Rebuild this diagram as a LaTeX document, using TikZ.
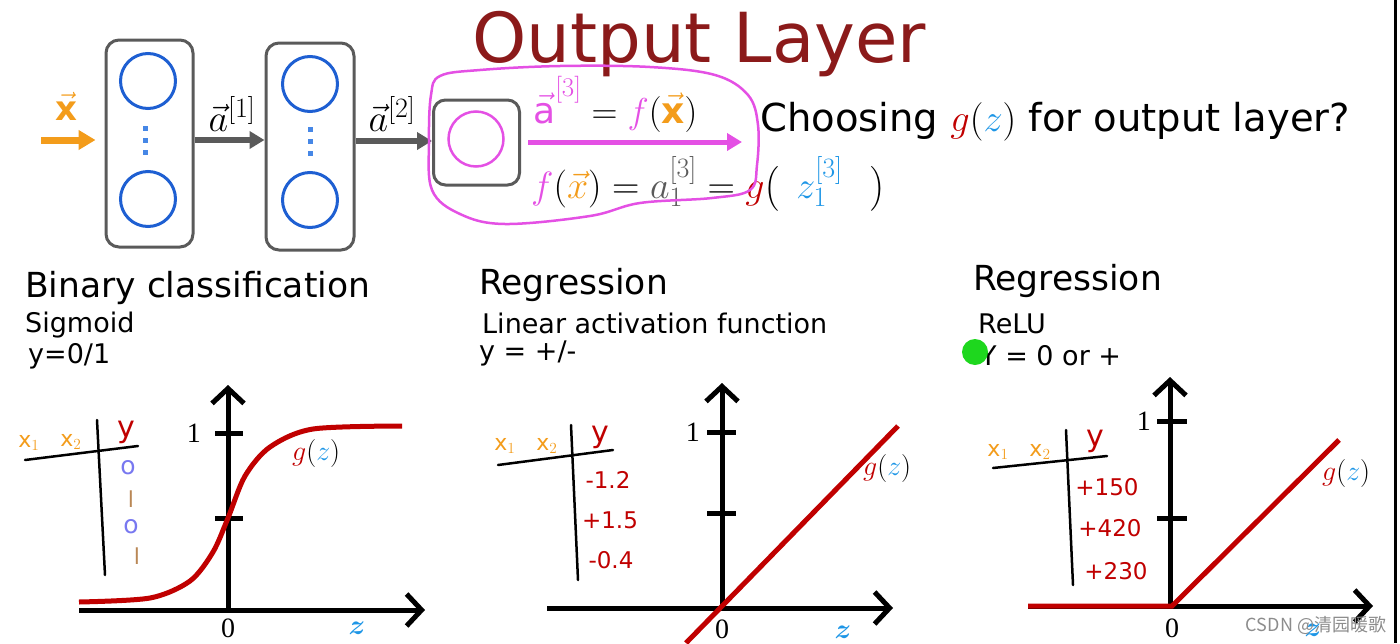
\RequirePackage{fix-cm}
\documentclass[tikz,border=0pt]{standalone}
\usepackage{amsmath}
\usepackage{fontspec}
\setmainfont{DejaVu Sans}
\newfontfamily\axisfont{Liberation Serif}
\newfontfamily\cjkfont{Noto Sans CJK SC}
\usetikzlibrary{arrows.meta, positioning}

\DeclareMathSizes{36}{36}{27}{20}
\DeclareMathSizes{38}{38}{28}{21}

\definecolor{titlered}{RGB}{139,26,26}
\definecolor{boxgray}{RGB}{90,90,90}
\definecolor{unitblue}{RGB}{30,95,210}
\definecolor{dotblue}{RGB}{70,135,230}
\definecolor{inorange}{RGB}{243,156,27}
\definecolor{outmag}{RGB}{228,80,228}
\definecolor{curvered}{RGB}{192,0,0}
\definecolor{zblue}{RGB}{30,150,230}
\definecolor{handpurple}{RGB}{120,120,240}
\definecolor{handbrown}{RGB}{185,135,85}
\definecolor{dotgreen}{RGB}{30,215,30}
\definecolor{markgray}{RGB}{140,140,140}

\newcommand{\sz}[1]{\fontsize{#1}{#1}\selectfont}
\newcommand{\gz}{\textcolor{curvered}{g}(\textcolor{zblue}{z})}
\newcommand{\zz}{\textcolor{zblue}{\boldsymbol{z}}}

\begin{document}
\begin{tikzpicture}[x=1pt, y=-1pt,
  layer/.style={draw=boxgray, line width=3pt, rounded corners=13pt, inner sep=0pt},
  unit/.style={circle, draw=unitblue, line width=3pt, minimum size=55pt, inner sep=0pt},
  netarrow/.style={draw=boxgray, line width=6pt, -{Triangle[length=15pt,width=17pt]}},
  inarrow/.style={draw=inorange, line width=7pt, -{Triangle[length=17pt,width=19pt]}},
  outarrow/.style={draw=outmag, line width=5pt, -{Triangle[length=15pt,width=17pt]}},
  axis/.style={line width=5pt, -{Straight Barb[length=15pt,width=32pt]}},
  axistick/.style={line width=5pt},
  curve/.style={draw=curvered, line width=5pt},
  hand/.style={line width=2.5pt, line cap=round},
  txt/.style={inner sep=0pt, anchor=base west},
  heading/.style={txt, font=\sz{34.5}},
  subhead/.style={txt, font=\sz{27}},
  handtxt/.style={inner sep=0pt, font=\sz{22}},
  handnum/.style={inner sep=0pt, font=\sz{23}, text=curvered},
  axislabel/.style={inner sep=0pt, font=\axisfont\sz{28}}
]
\useasboundingbox (0,0) rectangle (1400,643);

% title and question
\node[txt, text=titlered, font=\sz{69}] (title) at (472,62) {Output Layer};
\node[txt, font=\sz{38.5}] (choose) at (760,131) {Choosing $\gz$ for output layer?};

% network
\node[layer, minimum width=87pt, minimum height=207pt] (layer1) at (149.5,143.5) {};
\node[layer, minimum width=88pt, minimum height=207pt] (layer2) at (310,146.5) {};
\node[layer, minimum width=86pt, minimum height=85pt, rounded corners=12pt] (layer3) at (476.5,142.5) {};
\node[unit] (u11) at (148,81) {};
\node[unit] (u12) at (148,199) {};
\node[unit] (u21) at (310,84) {};
\node[unit] (u22) at (310,200) {};
\node[unit, draw=outmag, line width=2.5pt] (u31) at (476,139) {};
\coordinate (dots1) at (145,140);
\coordinate (dots2) at (310,141);
\foreach \yy in {128,140,152} \fill[dotblue] (142.5,\yy-2.5) rectangle ++(5,5);
\foreach \yy in {129,141,153} \fill[dotblue] (307.5,\yy-2.5) rectangle ++(5,5);

\coordinate (xin) at (41,140);
\coordinate (aout) at (742,142);
\draw[inarrow, shorten >=9pt] (xin) -- (layer1.west |- xin);
\draw[netarrow] (layer1.east |- dots1) -- (layer2.west |- dots1);
\draw[netarrow] (layer2.east |- dots2) -- (layer3.west |- dots2);
\draw[outarrow, shorten <=7pt] (layer3.east |- aout) -- (aout);

\node[inner sep=0pt, text=inorange, font=\sz{34}] (xlabel) at (66,106) {$\vec{\mathbf{x}}$};
\node[inner sep=0pt, font=\sz{38}] (a1label) at (232,114) {$\vec{a}^{[1]}$};
\node[inner sep=0pt, font=\sz{38}] (a2label) at (392,114) {$\vec{a}^{[2]}$};
\node[txt, font=\sz{36}] (a3label) at (533,123) {$\textcolor{outmag}{\vec{\mathrm{a}}^{[3]}} = \textcolor{outmag}{f}(\textcolor{inorange}{\vec{\mathbf{x}}})$};
\node[txt, font=\sz{38}] (fxhand) at (531,198) {$\textcolor{outmag}{f}(\textcolor{inorange}{\vec{x}}) = \textcolor{boxgray}{a^{[3]}_{1}} = \textcolor{curvered}{g}\bigl(\;\, \textcolor{zblue}{z^{[3]}_{1}} \;\;\,\bigr)$};

% magenta loop round the output unit
\draw[outmag, line width=2.5pt] plot[smooth cycle, tension=0.6] coordinates {(440,76) (480,70) (560,66) (650,67) (715,75) (748,95) (758,125) (757,165) (750,190) (712,198) (640,203) (590,216) (505,224) (460,214) (432,190) (429,140) (431,95)};

% section headings
\node[heading] (headbin) at (25,297) {Binary classification};
\node[subhead] (subsig) at (25,332) {Sigmoid};
\node[subhead] (ysig) at (28,363) {y=0/1};
\node[heading] (headlin) at (479,294) {Regression};
\node[subhead] (sublin) at (482,333) {Linear activation function};
\node[subhead] (ylin) at (479,360) {y = +/-};
\node[heading] (headrelu) at (973,290) {Regression};
\node[subhead] (subrelu) at (978,333) {ReLU};
\node[subhead] (yrelu) at (980,365) {Y = 0 or +};
\fill[dotgreen] (975,352) circle (13);

% sigmoid plot
\draw[axis] (79,610) -- (425,610);
\draw[axis] (228,612) -- (228,385);
\draw[axistick] (215,433) -- (243,433);
\draw[axistick] (215,518) -- (243,518);
\draw[curve] plot[smooth] coordinates {(79,602) (150,598) (190,581) (213,552) (228,518) (245,476) (270,447) (313,429) (402,426)};
\node[axislabel, anchor=east] (one1) at (201,433) {1};
\node[axislabel, anchor=base] (zero1) at (228,637) {0};
\node[inner sep=0pt, font=\sz{28}] (z1) at (357,628) {$\zz$};
\node[inner sep=0pt, anchor=west, font=\sz{28}] (g1) at (292,453) {$\gz$};
\draw[hand] (25,460) -- (138,446);
\draw[hand] (97,420) -- (105,575);
\node[handtxt, text=inorange] (x11) at (29,443) {x$_1$};
\node[handtxt, text=inorange] (x21) at (71,442) {x$_2$};
\node[handtxt, text=curvered, font=\sz{30}] (y1) at (126,432) {y};
\node[handtxt, text=handpurple, font=\sz{25}] (v11) at (128,468) {o};
\node[handtxt, text=handbrown] (v12) at (131,499) {l};
\node[handtxt, text=handpurple, font=\sz{25}] (v13) at (131,527) {o};
\node[handtxt, text=handbrown] (v14) at (137,556) {l};

% linear plot
\draw[axis] (547,608) -- (893,608);
\draw[axis] (722,610) -- (722,383);
\draw[axistick] (707,432) -- (736,432);
\draw[axistick] (707,513) -- (736,513);
\draw[curve] (686,643) -- (898,426);
\node[axislabel, anchor=base] (zero2) at (722,638) {0};
\node[axislabel, anchor=east] (one2) at (700,432) {1};
\node[inner sep=0pt, font=\sz{28}] (z2) at (843,632) {$\zz$};
\node[inner sep=0pt, anchor=west, font=\sz{28}] (g2) at (863,468) {$\gz$};
\draw[hand] (498,465) -- (613,450);
\draw[hand] (571,425) -- (578,580);
\node[handtxt, text=inorange] (x12) at (505,446) {x$_1$};
\node[handtxt, text=inorange] (x22) at (547,446) {x$_2$};
\node[handtxt, text=curvered, font=\sz{30}] (y2) at (600,437) {y};
\node[handnum] (v21) at (608,480) {-1.2};
\node[handnum] (v22) at (610,520) {+1.5};
\node[handnum] (v23) at (611,560) {-0.4};

% relu plot
\draw[axis] (1028,606) -- (1373,606);
\draw[axis] (1170,608) -- (1170,377);
\draw[axistick] (1157,421) -- (1187,421);
\draw[axistick] (1157,518) -- (1187,518);
\draw[curve] (1028,606) -- (1172,606) -- (1339,440);
\node[axislabel, anchor=east] (one3) at (1151,421) {1};
\node[axislabel, anchor=base] (zero3) at (1172,637) {0};
\node[inner sep=0pt, font=\sz{28}] (z3) at (1313,630) {$\zz$};
\node[inner sep=0pt, anchor=west, font=\sz{28}] (g3) at (1322,473) {$\gz$};
\draw[hand] (993,468) -- (1107,456);
\draw[hand] (1066,430) -- (1073,585);
\node[handtxt, text=inorange] (x13) at (998,452) {x$_1$};
\node[handtxt, text=inorange] (x23) at (1040,452) {x$_2$};
\node[handtxt, text=curvered, font=\sz{30}] (y3) at (1095,441) {y};
\node[handnum] (v31) at (1107,487) {+150};
\node[handnum] (v32) at (1110,528) {+420};
\node[handnum] (v33) at (1116,571) {+230};

% watermark and frame edge
\node[inner sep=0pt, text=markgray, font=\cjkfont\sz{18}] (mark) at (1316,625) {CSDN @清园暖歌};
\draw[line width=3pt] (1395,0) -- (1395,643);
\end{tikzpicture}
\end{document}
